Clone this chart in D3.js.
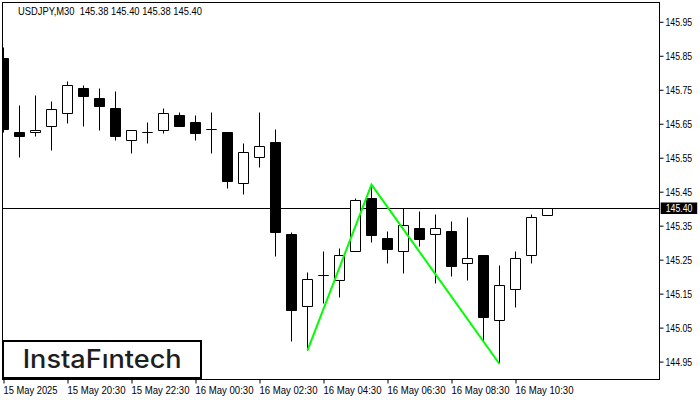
<!DOCTYPE html>
<html>
<head>
<meta charset="utf-8">
<script src="https://cdn.jsdelivr.net/npm/d3@7"></script>
<style>
  html, body { margin: 0; padding: 0; background: #fff; }
  svg { display: block; }
  text { font-family: "Liberation Sans", Arial, sans-serif; }
</style>
</head>
<body>
<div id="chart"></div>
<script>
// ---- data (USDJPY, M30) ----
const opens  = [145.843,145.623,145.623,145.642,145.680,145.753,145.724,145.694,145.602,145.623,
                145.631,145.673,145.653,145.632,145.624,145.473,145.552,145.594,145.324,145.111,
                145.202,145.190,145.273,145.431,145.311,145.273,145.343,145.323,145.332,145.240,
                145.261,145.070,145.161,145.261,145.380];
const highs  = [145.873,145.703,145.732,145.715,145.774,145.764,145.753,145.744,145.631,145.654,
                145.694,145.683,145.674,145.682,145.624,145.593,145.682,145.632,145.331,145.212,
                145.274,145.282,145.431,145.471,145.332,145.402,145.393,145.382,145.361,145.373,
                145.261,145.232,145.274,145.382,145.400];
const lows   = [145.625,145.551,145.613,145.571,145.650,145.641,145.630,145.601,145.563,145.592,
                145.621,145.642,145.601,145.563,145.460,145.442,145.521,145.260,145.010,144.983,
                145.121,145.139,145.273,145.301,145.239,145.210,145.288,145.180,145.201,145.189,
                145.010,144.943,145.110,145.240,145.380];
const closes = [145.632,145.613,145.631,145.693,145.764,145.730,145.700,145.613,145.631,145.623,
                145.681,145.642,145.621,145.632,145.480,145.564,145.582,145.331,145.101,145.191,
                145.202,145.261,145.423,145.321,145.280,145.352,145.310,145.343,145.230,145.252,
                145.081,145.173,145.252,145.373,145.400];
const xTickIdx    = [0, 4, 8, 12, 16, 20, 24, 28, 32];
const xTickLabels = ["15 May 2025","15 May 20:30","15 May 22:30","16 May 00:30","16 May 02:30",
                     "16 May 04:30","16 May 06:30","16 May 08:30","16 May 10:30"];
const yTicks = [145.95,145.85,145.75,145.65,145.55,145.45,145.35,145.25,145.15,145.05,144.95];
const patternIdx   = [19, 23, 31];
const patternPrice = [144.983, 145.471, 144.943];
const currentPrice = 145.40;
const titleText = "USDJPY,M30  145.38 145.40 145.38 145.40";
const logoText = "InstaF\u0131ntech";

// ---- layout ----
const W = 700, H = 400;
const L = 2.5, T = 2.5, R = 659.5, B = 379.5;

const svg = d3.select("#chart").append("svg").attr("width", W).attr("height", H);

const x = d3.scaleLinear().domain([0, 41]).range([3.5, 3.5 + 16 * 41]);
const y = d3.scaleLinear().domain([144.95, 145.95]).range([361.6, 21.8]);
const py = v => Math.floor(y(v)) + 0.5;

svg.append("defs").append("clipPath").attr("id", "plotclip")
  .append("rect").attr("x", 3).attr("y", 3).attr("width", R - 3.5).attr("height", B - 3.5);

const plot = svg.append("g").attr("clip-path", "url(#plotclip)");

// current price line
plot.append("line")
  .attr("x1", L).attr("x2", R)
  .attr("y1", py(currentPrice)).attr("y2", py(currentPrice))
  .attr("stroke", "#000").attr("stroke-width", 1);

// candles
const idx = d3.range(opens.length);
const cg = plot.append("g");
cg.selectAll("line.wick").data(idx).join("line")
  .attr("class", "wick")
  .attr("x1", i => x(i)).attr("x2", i => x(i))
  .attr("y1", i => py(highs[i])).attr("y2", i => py(lows[i]))
  .attr("stroke", "#000").attr("stroke-width", 1);
cg.selectAll("path.body").data(idx).join("path")
  .attr("class", "body")
  .attr("d", i => {
    const c = x(i);
    const t = py(Math.max(opens[i], closes[i]));
    const b = py(Math.min(opens[i], closes[i]));
    return `M${c - 5},${t}H${c + 5}V${b}H${c - 5}Z`;
  })
  .attr("fill", i => closes[i] >= opens[i] ? "#fff" : "#000")
  .attr("stroke", "#000").attr("stroke-width", 1);

// pattern line
const pl = d3.line().x(d => x(d[0])).y(d => y(d[1]));
plot.append("path")
  .attr("d", pl(patternIdx.map((d, k) => [d, patternPrice[k]])))
  .attr("fill", "none").attr("stroke", "#00ff00").attr("stroke-width", 2)
  .attr("stroke-linejoin", "miter");

// frame
svg.append("rect").attr("x", L).attr("y", T).attr("width", R - L).attr("height", B - T)
  .attr("fill", "none").attr("stroke", "#000").attr("stroke-width", 1);

// y axis
const yAxis = svg.append("g").attr("transform", `translate(${R},0)`)
  .call(d3.axisRight(y).tickValues(yTicks).tickSize(4).tickPadding(2).tickFormat(d3.format(".2f")));
yAxis.select(".domain").remove();
yAxis.selectAll("line").attr("stroke", "#000");
yAxis.selectAll("text")
  .attr("fill", "#000").style("font-size", "10.7px")
  .attr("textLength", 26.7).attr("lengthAdjust", "spacingAndGlyphs");

// current price box
svg.append("rect").attr("x", 660.7).attr("y", py(currentPrice) - 6).attr("width", 36.5).attr("height", 11.5)
  .attr("fill", "#000");
svg.append("text").attr("x", 665.7).attr("y", y(currentPrice)).attr("dy", "0.35em")
  .attr("fill", "#fff").style("font-size", "10.7px")
  .attr("textLength", 26.7).attr("lengthAdjust", "spacingAndGlyphs")
  .text(d3.format(".2f")(currentPrice));

// x axis
const xAxis = svg.append("g").attr("transform", `translate(0,${B})`)
  .call(d3.axisBottom(x).tickValues(xTickIdx).tickSize(4).tickPadding(3)
    .tickFormat((d, k) => xTickLabels[k]));
xAxis.select(".domain").remove();
xAxis.selectAll("line").attr("stroke", "#000");
xAxis.selectAll("text")
  .attr("text-anchor", "start").attr("x", -0.5)
  .attr("fill", "#000").style("font-size", "10.7px")
  .attr("textLength", (d, k) => k === 0 ? 54 : 58).attr("lengthAdjust", "spacingAndGlyphs");

// title
svg.append("text").attr("x", 18).attr("y", 14.5)
  .attr("fill", "#000").style("font-size", "10.7px").style("white-space", "pre")
  .attr("textLength", 184).attr("lengthAdjust", "spacingAndGlyphs")
  .text(titleText);

// logo
svg.append("rect").attr("x", 3).attr("y", 341).attr("width", 198).attr("height", 37)
  .attr("fill", "#fff").attr("stroke", "#000").attr("stroke-width", 2);
svg.append("text").attr("x", 22.7).attr("y", 368)
  .attr("fill", "#1e1e1e")
  .style("font-family", "Inter, 'Noto Sans', sans-serif").style("font-weight", 500).style("font-size", "25px")
  .attr("textLength", 159).attr("lengthAdjust", "spacingAndGlyphs")
  .text(logoText);
</script>
</body>
</html>
